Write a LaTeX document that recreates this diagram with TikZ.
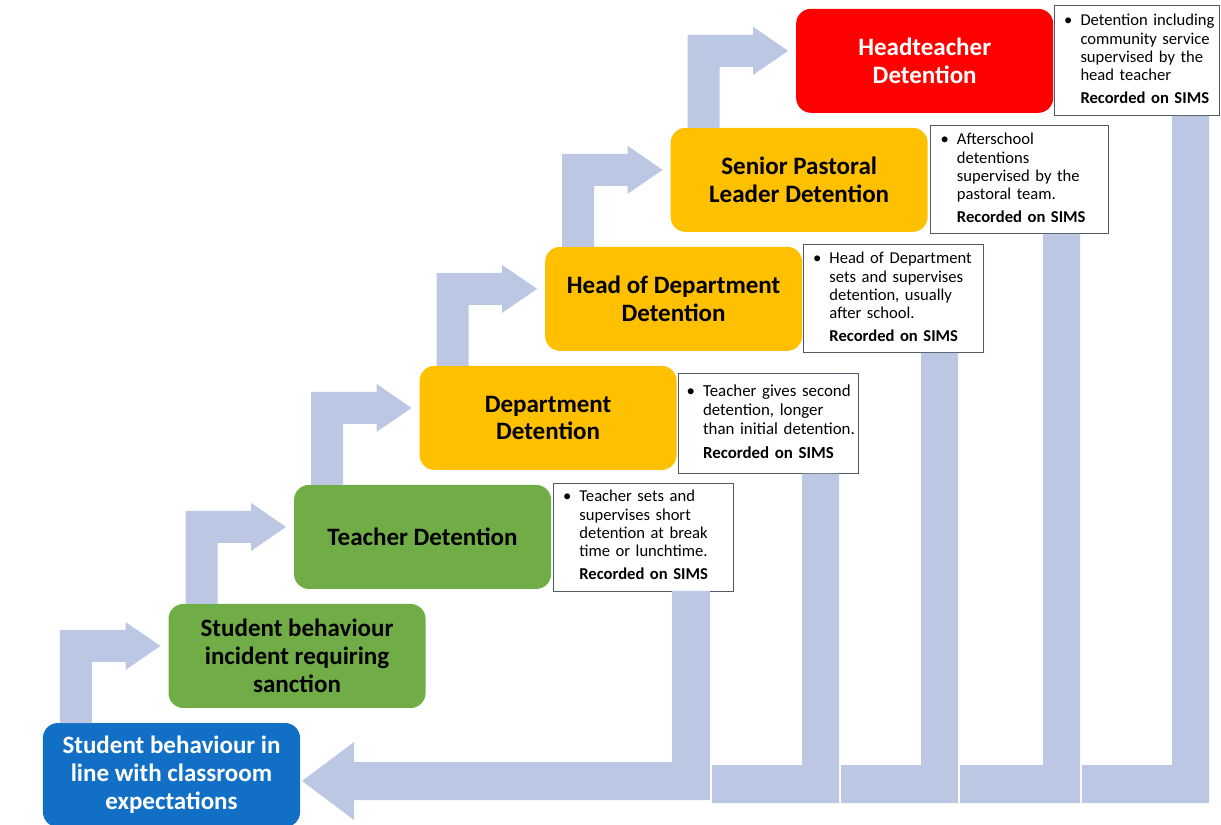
\documentclass[tikz,border=0pt]{standalone}
\usepackage{fontspec}
\setmainfont{Carlito}
\usetikzlibrary{positioning,calc}

\definecolor{stepblue}{RGB}{17,111,198}
\definecolor{stepgreen}{RGB}{112,173,71}
\definecolor{steporange}{RGB}{255,192,0}
\definecolor{stepred}{RGB}{255,0,0}
\definecolor{flowblue}{RGB}{188,199,228}
\definecolor{noteline}{RGB}{80,90,100}

\newcommand{\notetext}[1]{\begin{tabular}{@{}l@{\hspace{0.2cm}}l@{}}#1\end{tabular}}

\begin{document}
\begin{tikzpicture}[x=0.025cm,y=-0.025cm]
	\tikzstyle{stage} = [rounded corners=0.375cm, minimum width=6.425cm, minimum height=2.6cm, outer sep=0pt, inner sep=2pt, align=center, font=\bfseries\fontsize{17.8}{19.8}\selectfont]
	\tikzstyle{note} = [draw=noteline, line width=0.6pt, fill=white, text width=4cm, inner xsep=0.25cm, inner ysep=2pt, minimum height=2.7cm, outer sep=0pt, font=\fontsize{11.8}{13}\selectfont]
	\tikzstyle{flow} = [fill=flowblue]

	\useasboundingbox (0,0) rectangle (1221,824);

	\node [stage, fill=stepblue, text=white] (stud) at (171.5,775) {Student behaviour in\\line with classroom\\expectations};
	\node [stage, fill=stepgreen, above=0.375cm of stud, xshift=3.1375cm] (incid) {Student behaviour\\incident requiring\\sanction};
	\node [stage, fill=stepgreen, above=0.375cm of incid, xshift=3.1375cm] (teach) {Teacher Detention};
	\node [stage, fill=steporange, above=0.375cm of teach, xshift=3.1375cm] (dept) {Department\\Detention};
	\node [stage, fill=steporange, above=0.375cm of dept, xshift=3.1375cm] (hod) {Head of Department\\Detention};
	\node [stage, fill=steporange, above=0.375cm of hod, xshift=3.1375cm] (spl) {Senior Pastoral\\Leader Detention};
	\node [stage, fill=stepred, text=white, above=0.375cm of spl, xshift=3.1375cm] (headt) {Headteacher\\Detention};

	\node [note, right=0.05cm of teach] (tnote) {\notetext{\textbullet & Teacher sets and\\ & supervises short\\ & detention at break\\ & time or lunchtime.\\[3pt] & \textbf{Recorded on SIMS}}};
	\node [note, minimum height=2.5cm, inner xsep=0.2cm, text width=4.1cm, font=\fontsize{12}{13.6}\selectfont, right=0.05cm of dept, yshift=-0.14cm] (dnote) {\notetext{\textbullet & Teacher gives second\\ & detention, longer\\ & than initial detention.\\[3pt] & \textbf{Recorded on SIMS}}};
	\node [note, right=0.025cm of hod] (hnote) {\notetext{\textbullet & Head of Department\\ & sets and supervises\\ & detention, usually\\ & after school.\\[3pt] & \textbf{Recorded on SIMS}}};
	\node [note, text width=3.95cm, right=0.075cm of spl] (snote) {\notetext{\textbullet & Afterschool\\ & detentions\\ & supervised by the\\ & pastoral team.\\[3pt] & \textbf{Recorded on SIMS}}};
	\node [note, text width=3.625cm, minimum height=2.75cm, right=0.025cm of headt] (htnote) {\notetext{\textbullet & Detention including\\ & community service\\ & supervised by the\\ & head teacher\\[3pt] & \textbf{Recorded on SIMS}}};

	\foreach \a/\b in {stud/incid, incid/teach, teach/dept, dept/hod, hod/spl, spl/headt}
		\fill [flow] ($(\a.north west)+(17,0)$) |- ($(\b.west)+(-43,-26)$) -- ++(0,-8) -- ($(\b.west)+(-8,-10)$) -- ++(-35,24) -- ++(0,-8) -| ($(\a.north west)+(49,0)$) -- cycle;

	\fill [flow] (tnote.south -| 710,0) |- ($(stud.east)+(54,25)$) -- ++(0,20) -- ($(stud.east)+(2,6)$) -- ++(52,-39) -- ++(0,20) -| (tnote.south -| 672,0) -- cycle;
	\foreach \nt/\xr/\xp in {dnote/839/710, hnote/958/839, snote/1080/958, htnote/1209/1080}
		\fill [flow] (\nt.south -| \xr,0) |- (\xp+2,803) |- (\xr-37,765) -- (\nt.south -| \xr-37,0) -- cycle;

\end{tikzpicture}
\end{document}
